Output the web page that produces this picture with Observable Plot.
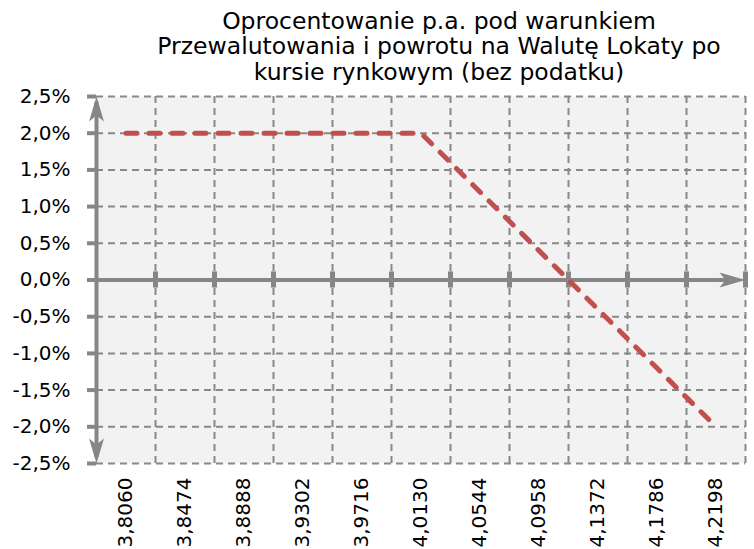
<!DOCTYPE html>
<html>
<head>
<meta charset="utf-8">
<script src="https://cdn.jsdelivr.net/npm/d3@7"></script>
<script src="https://cdn.jsdelivr.net/npm/@observablehq/plot@0.6"></script>
<style>
  html, body { margin: 0; padding: 0; background: #fff; }
</style>
</head>
<body>
<div id="chart"></div>
<script>
const categories = ["3,8060","3,8474","3,8888","3,9302","3,9716","4,0130","4,0544","4,0958","4,1372","4,1786","4,2198"];
const rates = [2.0, 2.0, 2.0, 2.0, 2.0, 2.0, 1.2, 0.4, -0.4, -1.2, -2.0];
const yTicks = [-2.5, -2.0, -1.5, -1.0, -0.5, 0, 0.5, 1.0, 1.5, 2.0, 2.5];
const titleLines = ["Oprocentowanie p.a. pod warunkiem", "Przewalutowania i powrotu na Walutę Lokaty po", "kursie rynkowym (bez podatku)"];

const data = categories.map((c, i) => ({ i, cat: c, rate: rates[i] }));
const boundaries = d3.range(1, categories.length + 1);
const centers = d3.range(categories.length).map(i => i + 0.5);

const gridColor = "#888888";
const axisColor = "#868686";

const arrowUp = { draw(ctx) { ctx.moveTo(0, 0); ctx.lineTo(-7.5, 25); ctx.lineTo(0, 19); ctx.lineTo(7.5, 25); ctx.closePath(); } };
const arrowDown = { draw(ctx) { ctx.moveTo(0, 0); ctx.lineTo(-7.5, -25); ctx.lineTo(0, -19); ctx.lineTo(7.5, -25); ctx.closePath(); } };
const arrowRight = { draw(ctx) { ctx.moveTo(0, 0); ctx.lineTo(-26, -7.5); ctx.lineTo(-20, 0); ctx.lineTo(-26, 7.5); ctx.closePath(); } };

const chart = Plot.plot({
  width: 754,
  height: 549,
  marginLeft: 96,
  marginRight: 9,
  marginTop: 96,
  marginBottom: 86,
  style: { fontFamily: "DejaVu Sans, Verdana, sans-serif", fontSize: "20px", color: "#000", background: "#fff" },
  x: { type: "linear", domain: [0, categories.length], axis: null },
  y: { domain: [-2.5, 2.5], axis: null },
  marks: [
    Plot.frame({ fill: "#f2f2f2", stroke: null }),
    // horizontal grid
    Plot.ruleY(yTicks, { stroke: gridColor, strokeWidth: 2, strokeDasharray: "7,5" }),
    // vertical grid
    Plot.ruleX(boundaries, { stroke: gridColor, strokeWidth: 2, strokeDasharray: "7,5" }),
    // y tick marks
    Plot.axisY({ ticks: yTicks, tickSize: 9, text: null, label: null, stroke: axisColor, strokeWidth: 4 }),
    // y labels
    Plot.axisY({ ticks: yTicks, tickSize: 0, tickPadding: 26, fontSize: 20, fill: "#000", label: null,
      tickFormat: d => d.toFixed(1).replace(".", ",") + "%" }),
    // x labels
    Plot.axisX({ ticks: centers, tickSize: 0, tickPadding: 14, tickRotate: -90, fontSize: 20, fill: "#000", label: null,
      tickFormat: d => categories[Math.floor(d)] }),
    // y axis line
    Plot.ruleX([0], { stroke: axisColor, strokeWidth: 4, y1: -2.42, y2: 2.42 }),
    // x axis line
    Plot.ruleY([0], { stroke: axisColor, strokeWidth: 4, x1: -0.15, x2: categories.length - 0.3 }),
    // x axis tick marks
    Plot.ruleX(boundaries, { y1: -0.11, y2: 0.11, stroke: axisColor, strokeWidth: 5 }),
    // arrows
    Plot.dot([2.5], { y: d => d, frameAnchor: "left", symbol: arrowUp, r: 5, fill: axisColor, stroke: null }),
    Plot.dot([-2.5], { y: d => d, frameAnchor: "left", symbol: arrowDown, r: 5, fill: axisColor, stroke: null }),
    Plot.dot([categories.length], { x: d => d, y: () => 0, symbol: arrowRight, r: 5, fill: axisColor, stroke: null }),
    // data line
    Plot.line(data, { x: d => d.i + 0.5, y: "rate", stroke: "#c0504d", strokeWidth: 5,
      strokeDasharray: "11,12", strokeLinecap: "round", strokeLinejoin: "round" }),
    // title
    Plot.text([titleLines.join("\n")], { text: d => d, frameAnchor: "top", dx: 18, dy: -86,
      lineAnchor: "top", lineHeight: 1.085, fontSize: 23.5, fill: "#000" })
  ]
});
document.getElementById("chart").appendChild(chart);
</script>
</body>
</html>
